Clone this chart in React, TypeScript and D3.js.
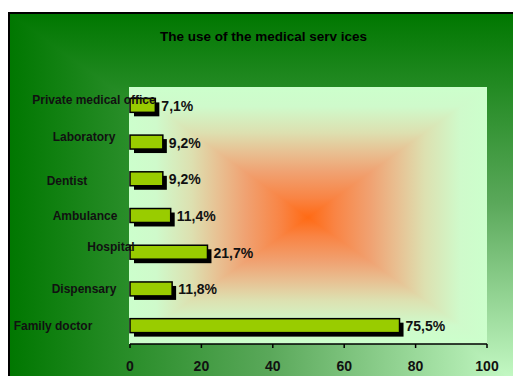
import React from "react";
import * as d3 from "d3";

const categories = [
  "Private medical office",
  "Laboratory",
  "Dentist",
  "Ambulance",
  "Hospital",
  "Dispensary",
  "Family doctor",
];
const values = [7.1, 9.2, 9.2, 11.4, 21.7, 11.8, 75.5];
const xTicks = [0, 20, 40, 60, 80, 100];
const title = "The use of the medical serv ices";

// layout of the category labels (as placed in the original rendering)
const labelCenterX = [94, 84, 67, 85, 111, 84, 53];
const labelDy = [-5, -5, 2, 0, -5, 0, 0];

const W = 513;
const H = 376;
const frame = { x0: 9, y0: 13, x1: 530, y1: 392 };
const plot = { x0: 129, x1: 487, y0: 87, y1: 344 };

export default function App() {
  const x = d3.scaleLinear().domain([0, 100]).range([130, 487]);
  const y = d3
    .scaleBand<string>()
    .domain(categories)
    .range([plot.y0, plot.y1])
    .paddingInner(0.62)
    .paddingOuter(0.31);
  const bh = y.bandwidth();
  const fmt = (v: number) => d3.format(".1f")(v).replace(".", ",") + "%";

  const cx = (plot.x0 + plot.x1) / 2;
  const cy = (plot.y0 + plot.y1) / 2 + 2;

  const stops = [
    [0, "#ccffcc"],
    [0.15, "#cffacb"],
    [0.35, "#dde0b0"],
    [0.5, "#e8c092"],
    [0.65, "#f0a272"],
    [0.85, "#f98444"],
    [1, "#ff6a14"],
  ] as [number, string][];
  const outerStops = [
    [0, "#007700"],
    [0.5, "#5aa85a"],
    [1, "#ccffcc"],
  ] as [number, string][];

  const grad = (id: string, x1: number, y1: number, x2: number, y2: number, st: [number, string][]) => (
    <linearGradient id={id} gradientUnits="userSpaceOnUse" x1={x1} y1={y1} x2={x2} y2={y2}>
      {st.map(([o, c], i) => (
        <stop key={i} offset={o} stopColor={c} />
      ))}
    </linearGradient>
  );

  const font = "Liberation Sans, Arial, sans-serif";

  return (
    <svg width={W} height={H} style={{ position: "absolute", left: 0, top: 0 }}>
      <defs>
        {grad("oV", 0, frame.y0, 0, frame.y1, outerStops)}
        {grad("oH", frame.x0, 0, frame.x1, 0, outerStops)}
        {grad("pT", 0, plot.y0, 0, cy, stops)}
        {grad("pB", 0, plot.y1, 0, cy, stops)}
        {grad("pL", plot.x0, 0, cx, 0, stops)}
        {grad("pR", plot.x1, 0, cx, 0, stops)}
      </defs>
      <rect x={0} y={0} width={W} height={H} fill="#ffffff" />
      {/* outer chart area: corner gradient */}
      <g shapeRendering="crispEdges">
        <polygon
          points={`${frame.x0},${frame.y0} ${frame.x1},${frame.y0} ${frame.x1},${frame.y1}`}
          fill="url(#oV)"
        />
        <polygon
          points={`${frame.x0},${frame.y0} ${frame.x0},${frame.y1} ${frame.x1},${frame.y1}`}
          fill="url(#oH)"
        />
      </g>
      <rect
        x={frame.x0}
        y={frame.y0}
        width={frame.x1 - frame.x0}
        height={frame.y1 - frame.y0}
        fill="none"
        stroke="#000"
        strokeWidth={2}
      />
      {/* plot area: box gradient to centre */}
      <g shapeRendering="crispEdges">
        <polygon points={`${plot.x0},${plot.y0} ${plot.x1},${plot.y0} ${cx},${cy}`} fill="url(#pT)" />
        <polygon points={`${plot.x0},${plot.y1} ${plot.x1},${plot.y1} ${cx},${cy}`} fill="url(#pB)" />
        <polygon points={`${plot.x0},${plot.y0} ${plot.x0},${plot.y1} ${cx},${cy}`} fill="url(#pL)" />
        <polygon points={`${plot.x1},${plot.y0} ${plot.x1},${plot.y1} ${cx},${cy}`} fill="url(#pR)" />
      </g>

      <text
        x={263.5}
        y={40.5}
        textAnchor="middle"
        fontFamily={font}
        fontWeight="bold"
        fontSize={13.5}
        fill="#000"
      >
        {title}
      </text>

      {/* bars */}
      {categories.map((c, i) => {
        const y0 = y(c)!;
        const xe = x(values[i]);
        return (
          <g key={c}>
            <rect x={x(0) + 4} y={y0 + 4} width={xe - x(0)} height={bh} fill="#000" />
            <rect
              x={x(0)}
              y={y0}
              width={xe - x(0)}
              height={bh}
              fill="#99cc00"
              stroke="#000"
              strokeWidth={1.5}
            />
            <text
              x={xe + 6}
              y={y0 + bh / 2 + 5.5}
              fontFamily={font}
              fontWeight="bold"
              fontSize={14}
              fill="#111"
            >
              {fmt(values[i])}
            </text>
          </g>
        );
      })}

      {/* category labels */}
      {categories.map((c, i) => (
        <text
          key={c}
          x={labelCenterX[i]}
          y={y(c)! + bh / 2 + labelDy[i] + 4}
          textAnchor="middle"
          fontFamily={font}
          fontWeight="bold"
          fontSize={12}
          fill="#111"
        >
          {c}
        </text>
      ))}

      {/* x axis */}
      <line x1={x(0)} x2={x(100)} y1={plot.y1} y2={plot.y1} stroke="#000" strokeWidth={1.5} />
      {xTicks.map((t) => (
        <g key={t}>
          <line x1={x(t)} x2={x(t)} y1={plot.y1} y2={plot.y1 + 4} stroke="#000" strokeWidth={1.5} />
          <text
            x={x(t)}
            y={371}
            textAnchor="middle"
            fontFamily={font}
            fontWeight="bold"
            fontSize={14}
            fill="#111"
          >
            {t}
          </text>
        </g>
      ))}
    </svg>
  );
}
